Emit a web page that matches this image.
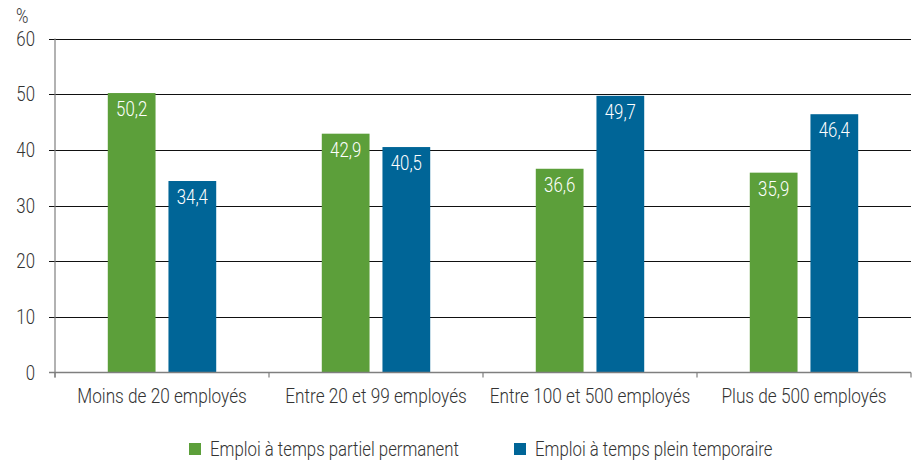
<!DOCTYPE html>
<html>
<head>
<meta charset="utf-8">
<script src="https://cdn.jsdelivr.net/npm/d3@7"></script>
<style>
  body { margin: 0; background: #fff; }
  svg text { font-family: Roboto, "Liberation Sans", sans-serif; font-weight: 300; fill: #333; }
</style>
</head>
<body>
<div id="chart"></div>
<script>
// Data
const categories = ["Moins de 20 employés", "Entre 20 et 99 employés", "Entre 100 et 500 employés", "Plus de 500 employés"];
const seriesNames = ["Emploi à temps partiel permanent", "Emploi à temps plein temporaire"];
const partielPermanent = [50.2, 42.9, 36.6, 35.9];
const pleinTemporaire = [34.4, 40.5, 49.7, 46.4];
const yTicks = [0, 10, 20, 30, 40, 50, 60];
const colors = ["#5c9f3a", "#006597"];

// Size
const WIDTH = 914;
const HEIGHT = 460;
const margin = { top: 38.5, right: 3, bottom: 87.5, left: 55 };

// Condensed look: squeeze text horizontally
const SQUEEZE = 0.84;
const squeeze = (x, y) => "translate(" + x + "," + y + ") scale(" + SQUEEZE + ",1)";

const svg = d3
  .select("#chart")
  .append("svg")
  .attr("width", WIDTH)
  .attr("height", HEIGHT);

// Scales
const x0 = d3
  .scaleBand()
  .domain(categories)
  .range([margin.left, WIDTH - margin.right]);

const x1 = d3
  .scaleBand()
  .domain(seriesNames)
  .range([0, x0.bandwidth()])
  .paddingInner(0.213)
  .paddingOuter(0.87);

const y = d3
  .scaleLinear()
  .domain([0, 60])
  .range([HEIGHT - margin.bottom, margin.top]);

// Gridlines
svg
  .append("g")
  .selectAll("line")
  .data(yTicks.filter((t) => t > 0))
  .enter()
  .append("line")
  .attr("x1", margin.left - 6)
  .attr("x2", WIDTH - margin.right)
  .attr("y1", (d) => Math.round(y(d)) + 0.5)
  .attr("y2", (d) => Math.round(y(d)) + 0.5)
  .style("stroke", "#111")
  .style("stroke-width", 1);

// Y tick labels
svg
  .append("g")
  .selectAll("text")
  .data(yTicks)
  .enter()
  .append("text")
  .attr("transform", (d) => squeeze(35, y(d)))
  .attr("dy", "0.36em")
  .attr("text-anchor", "end")
  .style("font-size", "20px")
  .text((d) => d);

svg
  .append("text")
  .attr("transform", squeeze(16, 23))
  .style("font-size", "20px")
  .text("%");

// Bars
const rows = categories.map((c, i) => ({
  cat: c,
  vals: [
    { key: seriesNames[0], v: partielPermanent[i], color: colors[0] },
    { key: seriesNames[1], v: pleinTemporaire[i], color: colors[1] },
  ],
}));

const groups = svg
  .append("g")
  .selectAll("g")
  .data(rows)
  .enter()
  .append("g")
  .attr("transform", (d) => "translate(" + x0(d.cat) + ",0)");

groups
  .selectAll("rect")
  .data((d) => d.vals)
  .enter()
  .append("rect")
  .attr("x", (d) => x1(d.key))
  .attr("y", (d) => y(d.v))
  .attr("width", x1.bandwidth())
  .attr("height", (d) => y(0) - y(d.v))
  .style("fill", (d) => d.color);

groups
  .selectAll("text")
  .data((d) => d.vals)
  .enter()
  .append("text")
  .attr("transform", (d) => squeeze(x1(d.key) + x1.bandwidth() / 2, y(d.v) + 23))
  .attr("text-anchor", "middle")
  .style("font-size", "20px")
  .style("fill", "#fff")
  .text((d) => d.v.toFixed(1).replace(".", ","));

// Axes lines
const axis = svg.append("g").style("stroke", "#7f7f7f");

axis
  .append("line")
  .attr("x1", margin.left - 6)
  .attr("x2", WIDTH - margin.right)
  .attr("y1", y(0))
  .attr("y2", y(0))
  .style("stroke-width", 1.5);

axis
  .append("line")
  .attr("x1", margin.left)
  .attr("x2", margin.left)
  .attr("y1", y(60))
  .attr("y2", y(0) + 5)
  .style("stroke-width", 1.2);

const bounds = categories.map((c) => x0(c)).concat([x0.range()[1]]);
axis
  .selectAll("line.tick")
  .data(bounds)
  .enter()
  .append("line")
  .attr("class", "tick")
  .attr("x1", (d) => d)
  .attr("x2", (d) => d)
  .attr("y1", y(0))
  .attr("y2", y(0) + 5)
  .style("stroke-width", 1.2);

// Category labels
svg
  .append("g")
  .selectAll("text")
  .data(categories)
  .enter()
  .append("text")
  .attr("transform", (d) => squeeze(x0(d) + x0.bandwidth() / 2, 402.5))
  .attr("text-anchor", "middle")
  .style("font-size", "20.5px")
  .text((d) => d);

// Legend
const legendX = [189, 514];
const legend = svg
  .append("g")
  .selectAll("g")
  .data(seriesNames)
  .enter()
  .append("g")
  .attr("transform", (d, i) => "translate(" + legendX[i] + ",443)");

legend
  .append("rect")
  .attr("width", 12)
  .attr("height", 12)
  .style("fill", (d, i) => colors[i]);

legend
  .append("text")
  .attr("transform", squeeze(21, 13))
  .style("font-size", "20px")
  .text((d) => d);
</script>
</body>
</html>
